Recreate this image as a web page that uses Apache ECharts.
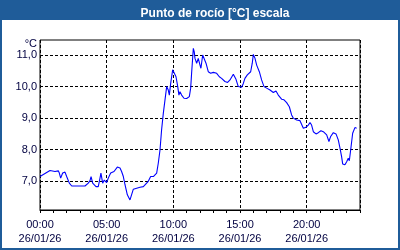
<!DOCTYPE html>
<html>
<head>
<meta charset="utf-8">
<script src="https://cdn.jsdelivr.net/npm/echarts@6/dist/echarts.min.js"></script>
<style>html,body{margin:0;padding:0;background:#fff}#c{width:400px;height:250px}</style>
</head>
<body>
<div id="c"></div>
<script>
const titleText = 'Punto de rocío [°C] escala';
const unitLabel = '°C';
const dateLabel = '26/01/26';
const xTickHours = [0, 5, 10, 15, 20];
const yTickValues = [7, 8, 9, 10, 11];
// time in hours since 00:00
const hours = [0.00,0.75,1.125,1.37,1.45,1.55,1.70,1.875,2.0,2.2,2.38,2.85,3.375,3.5,3.62,3.75,3.83,3.95,4.07,4.2,4.37,4.5,4.57,4.7,4.82,5.0,5.12,5.3,5.55,5.8,6.0,6.12,6.25,6.375,6.55,6.75,6.87,7.0,7.25,7.5,7.75,7.87,8.12,8.3,8.5,8.75,8.87,9.0,9.12,9.25,9.375,9.5,9.62,9.7,9.8,9.95,10.05,10.2,10.33,10.42,10.5,10.62,10.8,11.0,11.2,11.3,11.37,11.5,11.57,11.62,11.75,11.87,12.0,12.07,12.2,12.3,12.45,12.62,12.8,13.0,13.25,13.45,13.62,13.87,14.07,14.25,14.5,14.7,14.87,15.0,15.12,15.25,15.37,15.55,15.7,15.8,15.92,16.0,16.12,16.25,16.45,16.62,16.8,17.0,17.25,17.5,17.7,17.87,18.12,18.3,18.5,18.7,18.87,19.0,19.25,19.5,19.62,19.75,19.95,20.12,20.25,20.37,20.5,20.7,20.87,21.07,21.25,21.37,21.5,21.67,21.8,22.0,22.2,22.37,22.5,22.62,22.7,22.87,23.0,23.12,23.2,23.3,23.45,23.62,23.75];
const dewPoint = [7.15,7.34,7.31,7.33,7.26,7.10,7.26,7.29,7.15,6.94,6.85,6.85,6.85,6.89,6.94,7.02,7.15,6.94,6.98,6.83,6.83,7.10,7.26,6.94,7.04,6.96,7.10,7.26,7.31,7.45,7.42,7.31,7.15,6.89,6.57,6.41,6.36,6.75,6.78,6.81,6.83,6.89,7.0,7.15,7.15,7.26,7.57,7.99,8.63,9.16,9.58,10.0,9.89,9.73,10.10,10.53,10.47,10.31,10.0,9.73,9.84,9.73,9.63,9.62,9.68,9.95,10.42,11.21,11.1,10.9,10.74,10.89,10.68,10.58,11.0,10.95,10.74,10.47,10.42,10.45,10.42,10.31,10.26,10.16,10.13,10.21,10.39,10.23,10.0,9.95,9.98,10.10,10.26,10.37,10.31,10.47,10.74,11.02,10.9,10.68,10.47,10.21,10.0,9.95,9.89,9.81,9.86,9.73,9.6,9.58,9.49,9.36,9.10,9.0,8.94,8.92,8.89,8.68,8.71,8.78,8.86,8.78,8.57,8.50,8.54,8.6,8.57,8.54,8.47,8.26,8.42,8.54,8.50,8.31,8.05,7.78,7.55,7.52,7.62,7.73,7.65,7.99,8.52,8.70,8.68];

const seriesData = hours.map((h, i) => [h, dewPoint[i]]);
const FONT = 'Liberation Sans';
const TXT = '#000040';
const chart = echarts.init(document.getElementById('c'), null, {renderer: 'canvas'});
chart.setOption({
  animation: false,
  backgroundColor: '#ffffff',
  title: {
    text: titleText, left: 210, top: 3, textAlign: 'center',
    textStyle: {color: '#ffffff', fontFamily: FONT, fontWeight: 'bold', fontSize: 12}
  },
  graphic: [
    {type: 'rect', z: -1, shape: {x: 0, y: 0, width: 400, height: 20}, style: {fill: '#1F5C99'}},
    {type: 'rect', z: 100, shape: {x: 1, y: 1, width: 398, height: 248}, style: {fill: 'none', stroke: '#1F5C99', lineWidth: 2}}
  ],
  grid: {left: 40, right: 40, top: 40, bottom: 40, show: true, borderColor: '#000', borderWidth: 1, backgroundColor: 'transparent'},
  xAxis: [
    {
      type: 'value', min: 0, max: 24, interval: 1, position: 'bottom',
      axisLine: {show: true, lineStyle: {color: '#000', width: 1}},
      axisTick: {show: true, length: 3, lineStyle: {color: '#000'}},
      axisLabel: {show: false}, splitLine: {show: false}
    },
    {
      type: 'value', min: 0, max: 24, interval: 5, position: 'bottom',
      axisLine: {show: false}, axisTick: {show: false},
      axisLabel: {
        show: true, margin: 8, color: TXT, fontFamily: FONT, fontSize: 11, lineHeight: 14,
        formatter: v => xTickHours.includes(v) ? (String(v).padStart(2, '0') + ':00\n' + dateLabel) : ''
      },
      splitLine: {show: true, lineStyle: {color: '#000', width: 1, type: [3, 2]}}
    }
  ],
  yAxis: {
    type: 'value', min: 6.09, max: 11.475,
    name: unitLabel, nameLocation: 'end', nameGap: -10,
    nameTextStyle: {color: TXT, fontFamily: FONT, fontSize: 11, align: 'right', padding: [0, 3, 0, 0]},
    axisLine: {show: false},
    axisTick: {show: false, customValues: yTickValues},
    axisLabel: {
      show: true, margin: 3, color: TXT, fontFamily: FONT, fontSize: 11,
      customValues: yTickValues,
      formatter: v => v.toFixed(1).replace('.', ',')
    },
    splitLine: {show: true, lineStyle: {color: '#000', width: 1, type: [3, 2]}}
  },
  series: [{
    type: 'line', xAxisIndex: 0, data: seriesData, showSymbol: false, symbol: 'none',
    lineStyle: {color: '#0000FF', width: 1.1}, z: 3
  }]
});
</script>
</body>
</html>
